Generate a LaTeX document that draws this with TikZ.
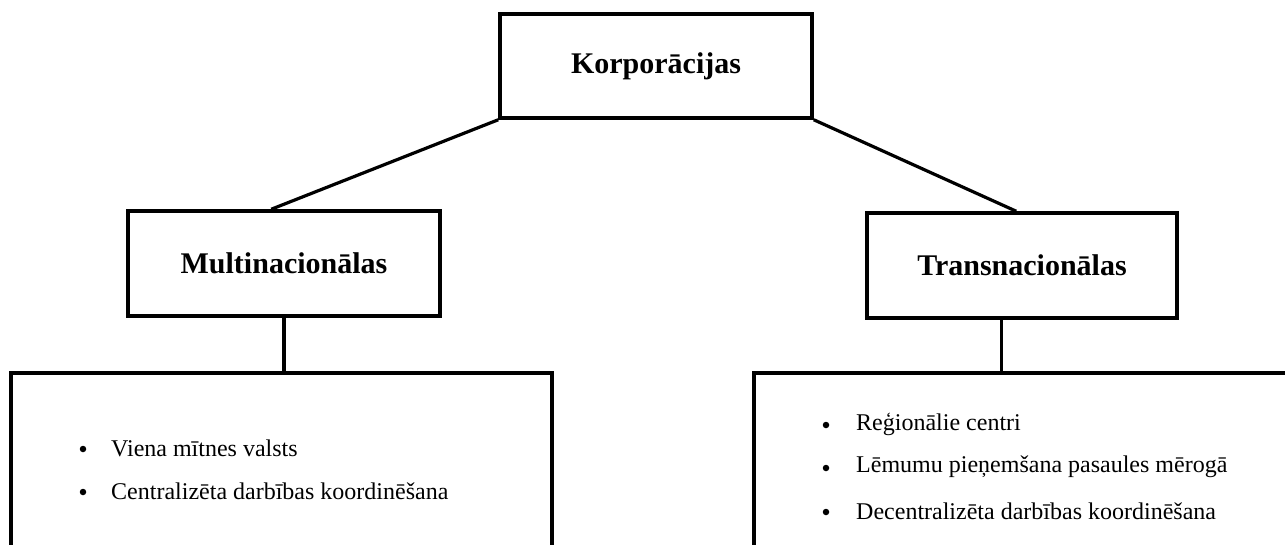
\documentclass[tikz,border=0pt]{standalone}
\usepackage{fontspec}
\setmainfont{Liberation Serif}
\begin{document}
\begin{tikzpicture}[x=1pt,y=-1pt,
  headbox/.style={draw=black,line width=3.5pt,inner sep=0pt,rectangle,
    font=\fontsize{30}{36}\selectfont\bfseries},
  listbox/.style={draw=black,line width=4pt,inner sep=0pt,rectangle},
  conn/.style={draw=black,line width=3.2pt},
  itemtext/.style={anchor=west,inner sep=0pt,font=\fontsize{24}{28}\selectfont},
  bul/.style={circle,fill=black,inner sep=0pt,minimum size=6.5pt}]
\useasboundingbox (0,0) rectangle (1285,544);
\clip (0,0) rectangle (1285,544);
% title boxes
\node[headbox,minimum width=312pt,minimum height=104pt] (top) at (656,66) {Korporācijas};
\node[headbox,minimum width=312pt,minimum height=105pt] (multi) at (284,263.5) {Multinacionālas};
\node[headbox,minimum width=310pt,minimum height=105pt] (trans) at (1022,265.5) {Transnacionālas};
% list boxes (extend past the page)
\node[listbox,minimum width=541pt,minimum height=230pt] (lowL) at (281.5,488) {};
\node[listbox,minimum width=560pt,minimum height=230pt] (lowR) at (1034,488) {};
% connectors
\coordinate (mtop) at ([xshift=145pt]multi.north west);
\coordinate (ttop) at ([xshift=151pt]trans.north west);
\draw[conn] (top.south west) -- (mtop);
\draw[conn] (top.south east) -- (ttop);
\draw[conn] (multi.south) -- (multi.south |- lowL.north);
\coordinate (tbot) at ([xshift=136pt]trans.south west);
\draw[conn] (tbot) -- (tbot |- lowR.north);
% left list
\node[bul] (bl1) at (83,449) {};
\node[itemtext] (tl1) at (111,448) {Viena mītnes valsts};
\node[bul] (bl2) at (83,492) {};
\node[itemtext] (tl2) at (111,491) {Centralizēta darbības koordinēšana};
% right list
\node[bul] (br1) at (826,425) {};
\node[itemtext] (tr1) at (856,424) {Reģionālie centri};
\node[bul] (br2) at (826,468) {};
\node[itemtext] (tr2) at (856,467) {Lēmumu pieņemšana pasaules mērogā};
\node[bul] (br3) at (826,512) {};
\node[itemtext] (tr3) at (856,511) {Decentralizēta darbības koordinēšana};
\end{tikzpicture}
\end{document}
